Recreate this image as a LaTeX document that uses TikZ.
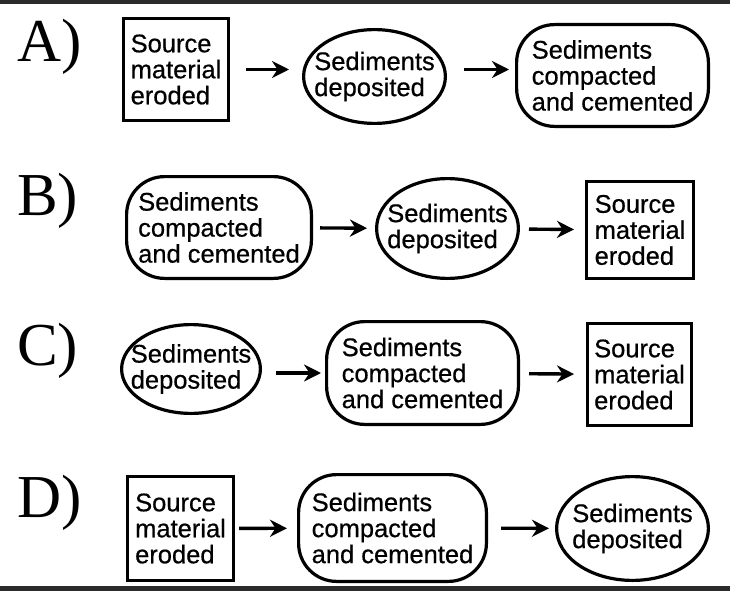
\documentclass[tikz,border=0pt]{standalone}
\usepackage{fontspec}
\setmainfont{Liberation Sans}
\newfontfamily\boxfont[FakeBold=0.6]{Liberation Sans}
\newfontfamily\seriflabel{Liberation Serif}
\usepackage{tikz}
\usetikzlibrary{shapes.geometric,arrows.meta}
\definecolor{barcol}{HTML}{2B2B2B}

\tikzset{
  every node/.style={font=\boxfont\fontsize{25.5}{26}\selectfont, align=left},
  srcbox/.style={draw, line width=3.2pt, rectangle, inner sep=0pt},
  depell/.style={draw, line width=3.2pt, ellipse, inner xsep=-14pt, inner ysep=0pt},
  cemround/.style={draw, line width=3.2pt, rectangle, rounded corners=38pt, inner sep=0pt},
  rowlabel/.style={font=\seriflabel\fontsize{61}{61}\selectfont, anchor=base west, inner sep=0pt},
  flow/.style={-{Stealth[length=17pt,width=17pt]}, line width=3.4pt}
}

\begin{document}
\begin{tikzpicture}[x=1pt, y=-1pt]
  \useasboundingbox (0,0) rectangle (730,591);
  \fill[white] (0,0) rectangle (730,591);
  \fill[barcol] (0,0) rectangle (730,4);
  \fill[barcol] (0,586) rectangle (730,591);

  % row A
  \node[rowlabel] (labA) at (17,62) {A)};
  \node[srcbox, minimum width=104.8pt, minimum height=101.8pt] (a1) at (176,69.5)
    {Source\\material\\eroded};
  \node[depell, minimum width=141.8pt, minimum height=93.8pt] (a2) at (374.5,76.5)
    {Sediments\\deposited};
  \node[cemround, minimum width=191.8pt, minimum height=101.8pt] (a3) at (612.5,75.5)
    {Sediments\\compacted\\and cemented};
  \draw[flow, shorten <=16pt, shorten >=13pt] (a1.east) -- (a1.east -| a2.west);
  \draw[flow, shorten <=17pt, shorten >=6pt] (a2.east |- a1.east) -- (a3.west |- a1.east);

  % row B
  \node[rowlabel] (labB) at (17,215) {B)};
  \node[cemround, minimum width=184.8pt, minimum height=101.8pt] (b1) at (219,227.5)
    {Sediments\\compacted\\and cemented};
  \node[depell, minimum width=141.8pt, minimum height=99.8pt] (b2) at (447.5,228.5)
    {Sediments\\deposited};
  \node[srcbox, minimum width=106.8pt, minimum height=96.8pt] (b3) at (640,230)
    {Source\\material\\eroded};
  \draw[flow, shorten <=7pt, shorten >=8pt] (b1) -- (b2);
  \draw[flow, shorten <=9pt, shorten >=11pt] (b2) -- (b3);

  % row C
  \node[rowlabel] (labC) at (17,365) {C)};
  \node[depell, minimum width=138.8pt, minimum height=88.8pt] (c1) at (191,369)
    {Sediments\\deposited};
  \node[cemround, minimum width=191.8pt, minimum height=102.8pt] (c2) at (422.5,373)
    {Sediments\\compacted\\and cemented};
  \node[srcbox, minimum width=103.8pt, minimum height=101.8pt] (c3) at (639.5,374.5)
    {Source\\material\\eroded};
  \draw[flow, shorten <=14pt, shorten >=4pt] (c1.east |- c2) -- (c2);
  \draw[flow, shorten <=9pt, shorten >=12pt] (c2) -- (c3);

  % row D
  \node[rowlabel] (labD) at (17,517) {D)};
  \node[srcbox, minimum width=105.8pt, minimum height=103.8pt] (d1) at (180.5,528.5)
    {Source\\material\\eroded};
  \node[cemround, minimum width=187.8pt, minimum height=106.8pt] (d2) at (392.5,528)
    {Sediments\\compacted\\and cemented};
  \node[depell, minimum width=151.8pt, minimum height=103.8pt] (d3) at (632.5,528.5)
    {Sediments\\deposited};
  \draw[flow, shorten <=4pt, shorten >=10pt] (d1) -- (d2);
  \draw[flow, shorten <=13pt, shorten >=6pt] (d2) -- (d3);
\end{tikzpicture}
\end{document}
